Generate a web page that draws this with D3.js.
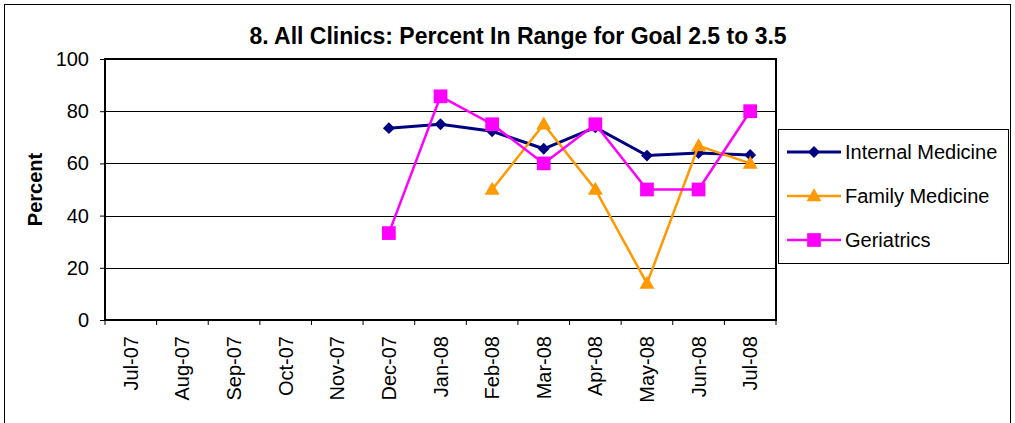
<!DOCTYPE html>
<html>
<head>
<meta charset="utf-8">
<script src="https://cdn.jsdelivr.net/npm/d3@7"></script>
<style>
  body { margin: 0; background: #fff; }
  svg { font-family: "Liberation Sans", Arial, sans-serif; }
</style>
</head>
<body>
<script>
// chart size
var w = 1015;
var h = 423;

// data
var months = ["Jul-07", "Aug-07", "Sep-07", "Oct-07", "Nov-07", "Dec-07",
  "Jan-08", "Feb-08", "Mar-08", "Apr-08", "May-08", "Jun-08", "Jul-08"];
var internalMed = [null, null, null, null, null, 73.5, 75, 72.3, 65.6, 73.8, 63, 64, 63.2];
var familyMed = [null, null, null, null, null, null, null, 50, 75, 50, 14, 66.7, 60];
var geriatrics = [null, null, null, null, null, 33.3, 85.7, 75, 60, 75, 50, 50, 80];
var yTicks = [0, 20, 40, 60, 80, 100];
var seriesNames = ["Internal Medicine", "Family Medicine", "Geriatrics"];

var series = [
  { name: seriesNames[0], values: internalMed, color: "#000080", width: 3, marker: "diamond" },
  { name: seriesNames[1], values: familyMed, color: "#FF9900", width: 2.5, marker: "triangle" },
  { name: seriesNames[2], values: geriatrics, color: "#FF00FF", width: 2.5, marker: "square" }
];

var plot = { left: 105, top: 59, right: 776, bottom: 320 };

var svg = d3.select("body").append("svg")
  .attr("width", w)
  .attr("height", h);

// outer chart frame
svg.append("rect")
  .attr("x", 4.5).attr("y", 4.5)
  .attr("width", w - 9).attr("height", h + 10)
  .attr("fill", "#fff")
  .attr("stroke", "#000")
  .attr("stroke-width", 1);

// scales
var x = d3.scaleBand()
  .domain(months)
  .range([plot.left, plot.right]);

var y = d3.scaleLinear()
  .domain([0, 100])
  .range([plot.bottom, plot.top]);

// gridlines
svg.append("g")
  .selectAll("line")
  .data(yTicks.slice(1, -1))
  .enter().append("line")
  .attr("x1", plot.left).attr("x2", plot.right)
  .attr("y1", function(d) { return Math.round(y(d)) + 0.5; })
  .attr("y2", function(d) { return Math.round(y(d)) + 0.5; })
  .attr("stroke", "#000")
  .attr("stroke-width", 1);

// plot area box
svg.append("rect")
  .attr("x", plot.left).attr("y", plot.top)
  .attr("width", plot.right - plot.left)
  .attr("height", plot.bottom - plot.top)
  .attr("fill", "none")
  .attr("stroke", "#000")
  .attr("stroke-width", 2);

// y axis
var yAxis = d3.axisLeft(y).tickValues(yTicks).tickSizeOuter(0).tickSize(5).tickPadding(11);
var gy = svg.append("g")
  .attr("transform", "translate(" + plot.left + ",0)")
  .call(yAxis);
gy.select(".domain").remove();
gy.selectAll("text").attr("font-size", 20).attr("fill", "#000")
  .attr("font-family", "Liberation Sans, Arial, sans-serif");

// x axis: labels centred in each month, ticks on the boundaries
var xAxis = d3.axisBottom(x).tickSize(0).tickPadding(0);
var gx = svg.append("g")
  .attr("transform", "translate(0," + plot.bottom + ")")
  .call(xAxis);
gx.select(".domain").remove();
gx.selectAll(".tick text")
  .attr("font-size", 20)
  .attr("fill", "#000")
  .attr("font-family", "Liberation Sans, Arial, sans-serif")
  .attr("transform", "rotate(-90)")
  .attr("text-anchor", "end")
  .attr("x", -16)
  .attr("y", 0)
  .attr("dy", "0.35em");

svg.append("g")
  .selectAll("line")
  .data(months.concat(["end"]))
  .enter().append("line")
  .attr("x1", function(d, i) { return plot.left + i * x.step(); })
  .attr("x2", function(d, i) { return plot.left + i * x.step(); })
  .attr("y1", plot.bottom)
  .attr("y2", plot.bottom + 5)
  .attr("stroke", "#000")
  .attr("stroke-width", 1);

// lines and markers
function cx(i) { return x(months[i]) + x.bandwidth() / 2; }

function markerPath(type) {
  if (type === "diamond") return d3.symbol().type(d3.symbolDiamond2).size(90)();
  if (type === "triangle") return d3.symbol().type(d3.symbolTriangle2).size(160)();
  return d3.symbol().type(d3.symbolSquare2).size(240)();
}

var line = d3.line()
  .defined(function(d) { return d != null; })
  .x(function(d, i) { return cx(i); })
  .y(function(d) { return y(d); });

series.forEach(function(s) {
  svg.append("path")
    .datum(s.values)
    .attr("d", line)
    .attr("fill", "none")
    .attr("stroke", s.color)
    .attr("stroke-width", s.width);

  svg.append("g")
    .selectAll("path")
    .data(s.values.map(function(v, i) { return { v: v, i: i }; })
      .filter(function(d) { return d.v != null; }))
    .enter().append("path")
    .attr("d", markerPath(s.marker))
    .attr("transform", function(d) {
      var dy = s.marker === "triangle" ? 1 : 0;
      return "translate(" + cx(d.i) + "," + (y(d.v) + dy) + ")";
    })
    .attr("fill", s.color);
});

// title
svg.append("text")
  .attr("x", 518).attr("y", 44)
  .attr("text-anchor", "middle")
  .attr("font-size", 23)
  .attr("font-weight", "bold")
  .text("8. All Clinics: Percent In Range for Goal 2.5 to 3.5");

// y axis label
svg.append("text")
  .attr("transform", "translate(42," + ((plot.top + plot.bottom) / 2) + ") rotate(-90)")
  .attr("text-anchor", "middle")
  .attr("font-size", 20)
  .attr("font-weight", "bold")
  .text("Percent");

// legend
var legend = svg.append("g");
legend.append("rect")
  .attr("x", 778.5).attr("y", 129.5)
  .attr("width", 230).attr("height", 134)
  .attr("fill", "#fff")
  .attr("stroke", "#000")
  .attr("stroke-width", 1);

var li = legend.selectAll("g.item")
  .data(series)
  .enter().append("g")
  .attr("class", "item")
  .attr("transform", function(d, i) { return "translate(787," + (152 + i * 44) + ")"; });

li.append("line")
  .attr("x1", 0).attr("x2", 54)
  .attr("y1", 0).attr("y2", 0)
  .attr("stroke", function(d) { return d.color; })
  .attr("stroke-width", function(d) { return d.width; });

li.append("path")
  .attr("d", function(d) { return markerPath(d.marker); })
  .attr("transform", function(d) { return "translate(27," + (d.marker === "triangle" ? 1 : 0) + ")"; })
  .attr("fill", function(d) { return d.color; });

li.append("text")
  .attr("x", 58).attr("y", 0)
  .attr("dy", "0.35em")
  .attr("font-size", 20)
  .text(function(d) { return d.name; });
</script>
</body>
</html>
